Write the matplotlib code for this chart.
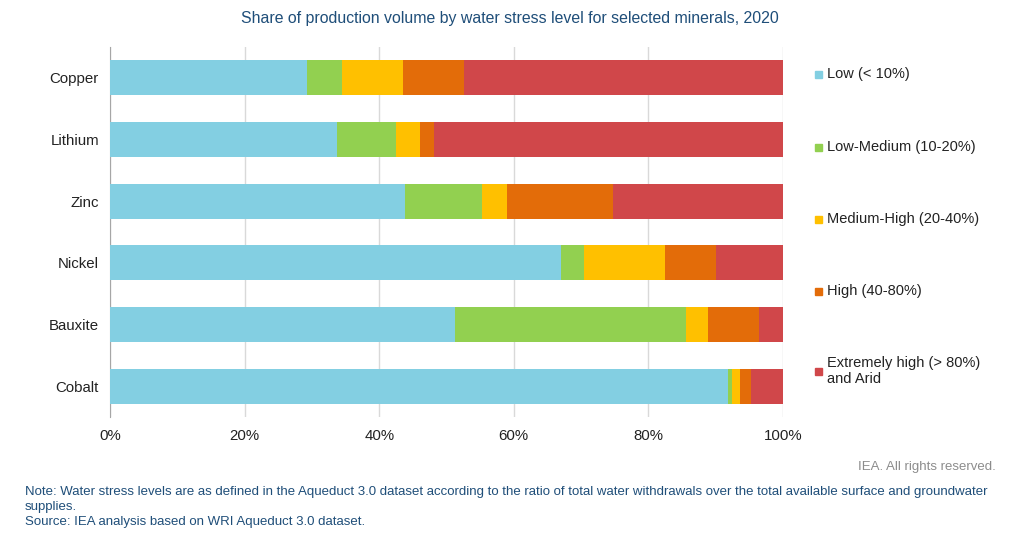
import matplotlib
matplotlib.use("Agg")
import matplotlib.pyplot as plt
from matplotlib.patches import Rectangle
import numpy as np

plt.rcParams['font.family'] = ['Liberation Sans', 'DejaVu Sans']

minerals = ["Copper", "Lithium", "Zinc", "Nickel", "Bauxite", "Cobalt"]
levels = ["Low (< 10%)", "Low-Medium (10-20%)", "Medium-High (20-40%)",
          "High (40-80%)", "Extremely high (> 80%)\nand Arid"]
low = [29.2, 33.7, 43.9, 67.0, 51.2, 91.9]
low_medium = [5.3, 8.8, 11.4, 3.4, 34.4, 0.5]
medium_high = [9.0, 3.6, 3.7, 12.0, 3.3, 1.2]
high = [9.1, 2.0, 15.7, 7.6, 7.5, 1.6]
extreme = [47.4, 51.9, 25.3, 10.0, 3.6, 4.8]
colors = ["#83CFE2", "#92D050", "#FFC000", "#E36C09", "#D0474A"]
ticks = [0, 20, 40, 60, 80, 100]
tick_labels = ["0%", "20%", "40%", "60%", "80%", "100%"]

series = [low, low_medium, medium_high, high, extreme]

fig = plt.figure(figsize=(10.16, 5.43), dpi=100)
ax = fig.add_axes([110/1016, 1-417/543, (783-110)/1016, (417-47)/543])

y = np.arange(len(minerals))
left = np.zeros(len(minerals))
for vals, col, lab in zip(series, colors, levels):
    v = np.array(vals, dtype=float)
    ax.barh(y, v, left=left, height=0.57, color=col, label=lab, linewidth=0, zorder=3)
    left += v

ax.set_ylim(len(minerals)-0.5, -0.5)
ax.set_xlim(0, 100)
ax.set_yticks(y)
ax.set_yticklabels(minerals, fontsize=10.8, color="#222222")
ax.set_xticks(ticks)
ax.set_xticklabels(tick_labels, fontsize=10.8, color="#222222")
ax.tick_params(axis='both', length=0, pad=9)
ax.tick_params(axis='y', pad=8)
ax.grid(axis='x', color="#D9D9D9", linewidth=1, zorder=0)
for s in ["top", "right", "bottom"]:
    ax.spines[s].set_visible(False)
ax.spines["left"].set_color("#A6A6A6")

fig.text(510/1016, 1-18/543, "Share of production volume by water stress level for selected minerals, 2020",
         ha="center", va="center", fontsize=11.4, color="#1F4E79")

leg_y = [74, 147, 219, 291, 371]
for lab, col, yy in zip(levels, colors, leg_y):
    sq = 7
    fig.patches.append(Rectangle((815/1016, 1-(yy+sq/2)/543), sq/1016, sq/543,
                                 transform=fig.transFigure, color=col, figure=fig))
    fig.text(827/1016, 1-yy/543, lab, ha="left", va="center", fontsize=10.5,
             color="#222222", linespacing=1.15)

fig.text(996/1016, 1-467/543, "IEA. All rights reserved.", ha="right", va="center",
         fontsize=9.5, color="#8C8C8C")
fig.text(25/1016, 1-492/543,
         "Note: Water stress levels are as defined in the Aqueduct 3.0 dataset according to the ratio of total water withdrawals over the total available surface and groundwater",
         ha="left", va="center", fontsize=9.5, color="#1F4E79")
fig.text(25/1016, 1-507/543, "supplies.", ha="left", va="center", fontsize=9.5, color="#1F4E79")
fig.text(25/1016, 1-522/543, "Source: IEA analysis based on WRI Aqueduct 3.0 dataset.",
         ha="left", va="center", fontsize=9.5, color="#1F4E79")

fig.savefig("out.png", dpi=100)
